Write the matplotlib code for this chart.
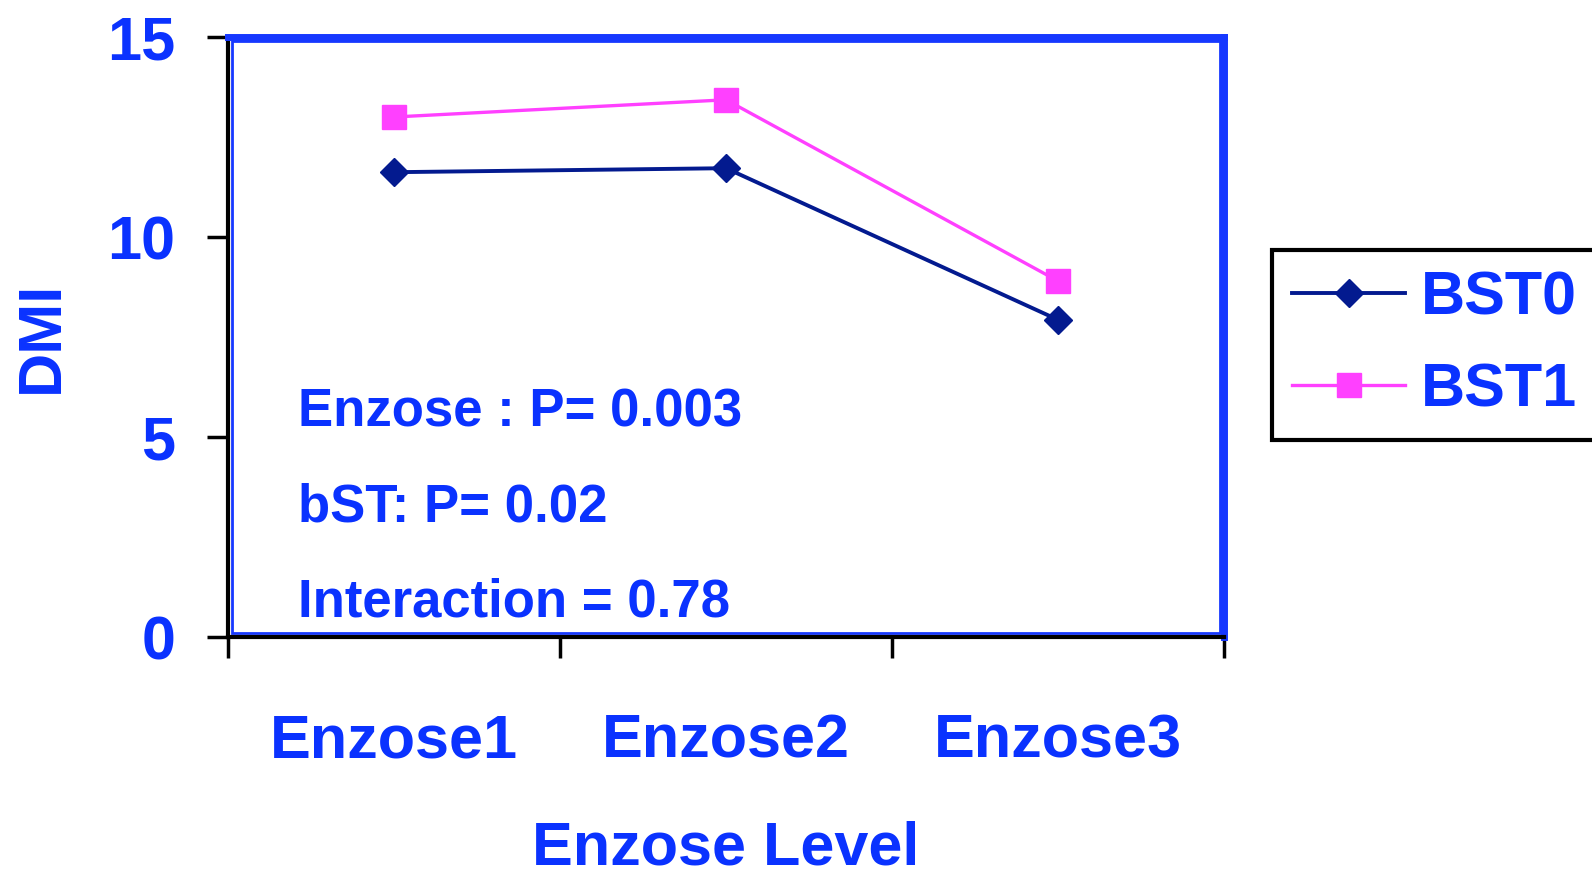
import numpy as np
from matplotlib import pyplot as plt
from matplotlib.patches import Rectangle

#==============================================================================
# data
categories = ['Enzose1', 'Enzose2', 'Enzose3']
bst0 = [11.62, 11.72, 7.93]
bst1 = [13.0, 13.43, 8.9]
series_names = ['BST0', 'BST1']
notes = ['Enzose : P= 0.003', 'bST: P= 0.02', 'Interaction = 0.78']
note_y = [5.27, 2.9, 0.52]

#==============================================================================
txt_blue = '#0a32ff'
frame_blue = '#1638ff'
c_bst0 = '#031a8f'
c_bst1 = '#ff40ff'

plt.rcParams['font.family'] = ['Liberation Sans', 'DejaVu Sans']
plt.rcParams['font.weight'] = 'bold'

fig = plt.figure(figsize=(15.92, 8.77), dpi=100)
ax = fig.add_axes([228/1592, 1-637/877, (1224-228)/1592, (637-37)/877])

x = np.arange(len(categories))
ax.plot(x, bst0, color=c_bst0, lw=2.8, marker='D', ms=14, label=series_names[0])
ax.plot(x, bst1, color=c_bst1, lw=2.4, marker='s', ms=17, label=series_names[1])

ax.set_xlim(-0.5, 2.5)
ax.set_ylim(0, 15)

# frame
for s in ['top', 'right']:
    ax.spines[s].set_color(frame_blue)
    ax.spines[s].set_linewidth(5)
for s in ['left', 'bottom']:
    ax.spines[s].set_color('black')
    ax.spines[s].set_linewidth(3)
ax.add_patch(Rectangle((0.004, 0.006), 0.992, 0.988, transform=ax.transAxes,
                       fill=False, ec=frame_blue, lw=2, zorder=1))

ax.set_yticks([0, 5, 10, 15])
ax.tick_params(axis='y', length=15, width=2.5, color='black', pad=23,
               labelsize=44, labelcolor=txt_blue)
ax.set_xticks(x)
ax.set_xticklabels(categories)
ax.set_xticks([-0.5, 0.5, 1.5, 2.5], minor=True)
ax.tick_params(axis='x', which='major', length=0, pad=55, labelsize=44,
               labelcolor=txt_blue)
ax.tick_params(axis='x', which='minor', length=15, width=2.5, color='black')
for lab in ax.get_xticklabels() + ax.get_yticklabels():
    lab.set_fontweight('bold')

ax.set_xlabel('Enzose Level', fontsize=44, fontweight='bold', color=txt_blue,
              labelpad=36)
ax.set_ylabel('DMI', fontsize=44, fontweight='bold', color=txt_blue, labelpad=26)

for t, yv in zip(notes, note_y):
    ax.text(0.07, yv, t, transform=ax.get_yaxis_transform(), fontsize=38,
            fontweight='bold', color=txt_blue, va='baseline')

leg = fig.legend(loc='upper left', bbox_to_anchor=(1272/1592, 1-250/877),
                 fontsize=44, frameon=True, fancybox=False, framealpha=1,
                 handlelength=1.85, borderpad=0.33, labelspacing=0.58,
                 handletextpad=0.25, borderaxespad=0)
leg.get_frame().set_edgecolor('black')
leg.get_frame().set_linewidth(3)
for t in leg.get_texts():
    t.set_color(txt_blue)
    t.set_fontweight('bold')

plt.savefig('out.png', dpi=100)
